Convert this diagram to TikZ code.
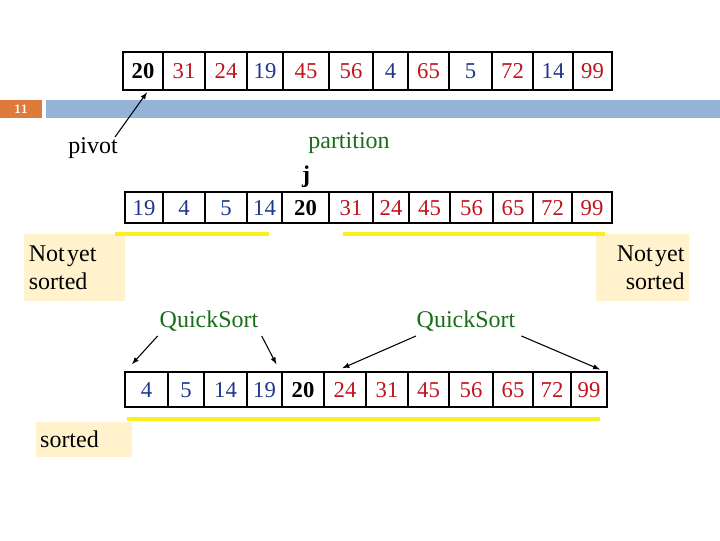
\documentclass[tikz,border=0pt]{standalone}
\usepackage{fontspec}
\setmainfont{Liberation Serif}
\usepackage{xcolor}
\usepackage{tikz}
\usetikzlibrary{positioning,calc}
\definecolor{lessblue}{RGB}{30, 55, 140}
\definecolor{morered}{RGB}{190, 20, 30}
\definecolor{labelgreen}{RGB}{25, 110, 25}
\definecolor{notefill}{RGB}{255, 242, 204}
\definecolor{headorange}{RGB}{222, 122, 60}
\definecolor{headblue}{RGB}{149, 179, 215}
\definecolor{markyellow}{RGB}{250, 240, 30}

\begin{document}
\begin{tikzpicture}[x=0.75pt, y=-0.75pt,
    every node/.style={font=\fontsize{18}{21}\selectfont},
    cell/.style={draw, line width=1.5pt, inner sep=0pt, text height=11.5pt, text depth=0pt,
        font=\fontsize{17}{20}\selectfont},
    lessnum/.style={text=lessblue},
    morenum/.style={text=morered},
    pivnum/.style={text=black, font=\fontsize{17}{20}\selectfont\bfseries},
    note/.style={fill=notefill, inner sep=0pt, text width=#1},
    green label/.style={text=labelgreen},
    underline/.style={markyellow, line width=3pt}]
    \useasboundingbox (0,0) rectangle (720,540);

    % Slide header
    \fill[headorange] (0,100) rectangle (42,118);
    \fill[headblue] (46,100) rectangle (720,118);
    \node[text=white, font=\sffamily\bfseries\fontsize{9}{10}\selectfont] (slide) at (21,109) {11};

    % Arrays
    \foreach \l/\r/\v/\s [count=\i, evaluate=\l as \w using (\r-\l)*0.75] in
        {123/163/20/pivnum, 163/205/31/morenum, 205/247/24/morenum, 247/283/19/lessnum,
         283/329/45/morenum, 329/373/56/morenum, 373/408/4/lessnum, 408/449/65/morenum,
         449/492/5/lessnum, 492/533/72/morenum, 533/573/14/lessnum, 573/612/99/morenum}
        \node[cell, \s, minimum width=\w pt, minimum height=28.5pt] (top\i) at ({(\l+\r)/2}, 71) {\v};

    \foreach \l/\r/\v/\s [count=\i, evaluate=\l as \w using (\r-\l)*0.75] in
        {125/163/19/lessnum, 163/205/4/lessnum, 205/247/5/lessnum, 247/282/14/lessnum,
         282/329/20/pivnum, 329/373/31/morenum, 373/409/24/morenum, 409/450/45/morenum,
         450/493/56/morenum, 493/533/65/morenum, 533/572/72/morenum, 572/612/99/morenum}
        \node[cell, \s, minimum width=\w pt, minimum height=23.5pt] (mid\i) at ({(\l+\r)/2}, 207.5) {\v};

    \foreach \l/\r/\v/\s [count=\i, evaluate=\l as \w using (\r-\l)*0.75] in
        {125/168/4/lessnum, 168/204/5/lessnum, 204/247/14/lessnum, 247/282/19/lessnum,
         282/324/20/pivnum, 324/366/24/morenum, 366/408/31/morenum, 408/449/45/morenum,
         449/493/56/morenum, 493/533/65/morenum, 533/571/72/morenum, 571/607/99/morenum}
        \node[cell, \s, minimum width=\w pt, minimum height=26.5pt] (bot\i) at ({(\l+\r)/2}, 389.5) {\v};

    % Labels
    \node (pivot) at (93,148) {pivot};
    \node[green label] (partition) at (349,143) {partition};
    \node[font=\fontsize{18}{21}\selectfont\bfseries] (j) at (306,177) {j};
    \node[green label] (qsleft) at (209,321) {QuickSort};
    \node[green label] (qsright) at (466,321) {QuickSort};

    % Notes
    \node[note=67.75pt, align=left, minimum height=50pt, inner xsep=4pt] (notleft) at (74,267.5) {Not\hspace{0.1em}yet\\sorted};
    \node[note=63pt, align=right, minimum height=50pt, inner xsep=3.5pt] (notright) at (642.5,267.5) {Not\hspace{0.1em}yet\\sorted};
    \node[note=65pt, align=left, minimum height=26pt, inner xsep=3.5pt] (sorted) at (83.5,439.5) {sorted};

    % Underlines
    \draw[underline] (115,234) -- (269,234);
    \draw[underline] (343,234) -- (605,234);
    \draw[underline] (127,419) -- (600,419);

    % Arrows
    \draw[-latex, thick] (115,137) -- ([xshift=3pt, yshift=-1pt]top1.south);
    \draw[-latex, thick] ([xshift=2pt]qsleft.south west) -- ([xshift=6pt, yshift=5pt]bot1.north west);
    \draw[-latex, thick] ([xshift=-1pt]qsleft.south east) -- ([xshift=-5pt, yshift=5pt]bot4.north east);
    \draw[-latex, thick] ([xshift=3pt]qsright.south west) -- ([xshift=-2pt, yshift=2pt]bot6.north);
    \draw[-latex, thick] ([xshift=1pt]qsright.south east) -- ([xshift=-6pt, yshift=1pt]bot12.north east);
\end{tikzpicture}
\end{document}
